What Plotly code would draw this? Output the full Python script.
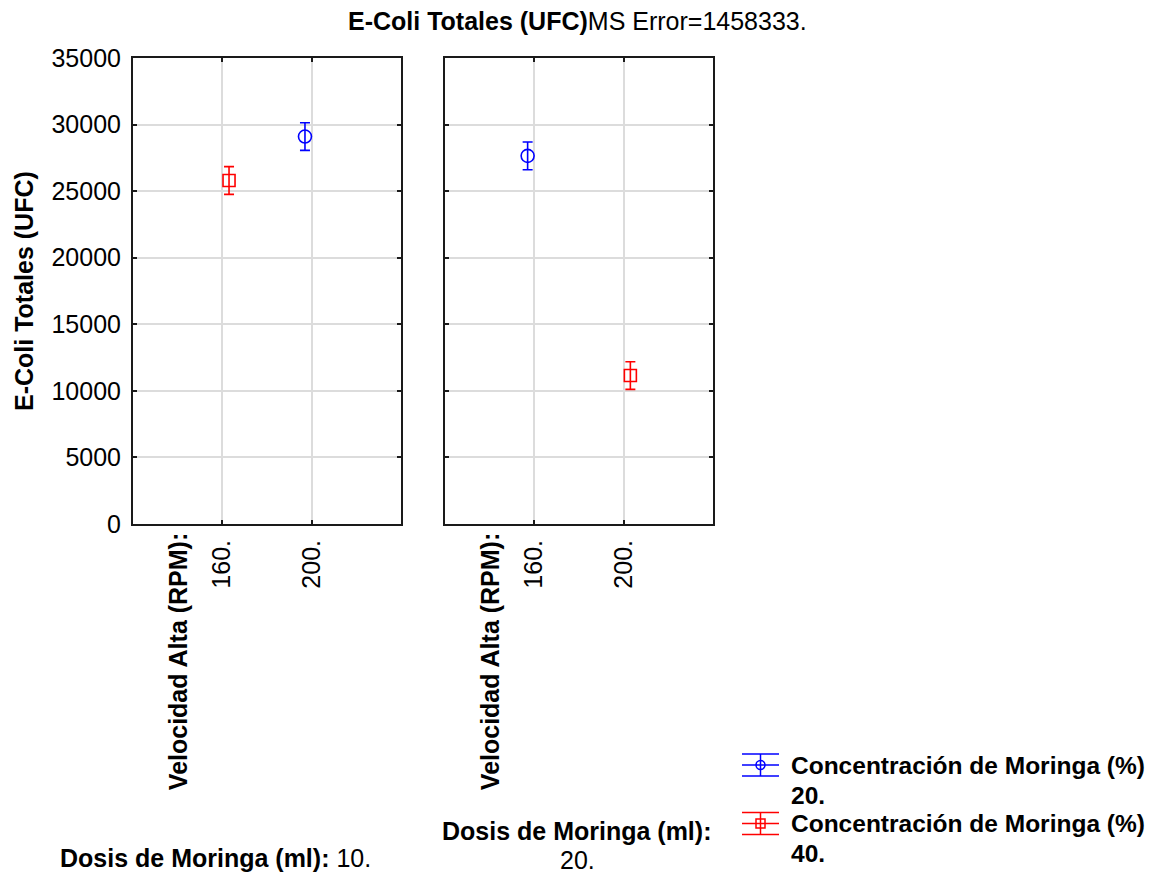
import plotly.graph_objects as go

# ---------------- data ----------------
velocidad_labels = ["160.", "200."]          # Velocidad Alta (RPM)
dosis_labels = ["10.", "20."]                # Dosis de Moringa (ml)
conc_labels = ["20.", "40."]                 # Concentración de Moringa (%)
# means per Dosis panel, indexed by Velocidad level
conc20_dosis10 = [None, 29100]
conc20_dosis20 = [27650, None]
conc40_dosis10 = [25800, None]
conc40_dosis20 = [None, 11150]
ci_half = [1040, 1040]                       # +/- confidence half width
y_ticks = [0, 5000, 10000, 15000, 20000, 25000, 30000, 35000]
ms_error = "1458333."

# ---------------- layout helpers ----------------
W, H = 1156, 873
FONT = "Liberation Sans, Arial, sans-serif"
FS = 25
FS_LEG = 24.5
BLUE = "#0000ff"
RED = "#ff0000"


def px(x):
    return x / W


def py(y):
    return 1 - y / H


panel_left = (133, 401)
panel_right = (445, 713)
plot_top, plot_bottom = 58, 524
offsets = {"20.": -0.075, "40.": 0.075}

series = [
    ("x", "y", conc20_dosis10, "20.", BLUE, "circle-open", 13),
    ("x", "y", conc40_dosis10, "40.", RED, "square-open", 12),
    ("x2", "y2", conc20_dosis20, "20.", BLUE, "circle-open", 13),
    ("x2", "y2", conc40_dosis20, "40.", RED, "square-open", 12),
]

fig = go.Figure()
for xa, ya, vals, conc, color, sym, size in series:
    xs = [i + 1 + offsets[conc] for i in range(len(velocidad_labels))]
    fig.add_trace(go.Scatter(
        x=xs, y=vals, xaxis=xa, yaxis=ya, mode="markers",
        marker=dict(symbol=sym, size=size, color=color, line=dict(color=color, width=1.6)),
        error_y=dict(type="data", array=ci_half, symmetric=True, color=color,
                     thickness=1.6, width=5),
        showlegend=False, hoverinfo="skip",
    ))

axis_common = dict(
    showline=True, linecolor="#1a1a1a", linewidth=2, mirror="ticks",
    ticks="inside", ticklen=4, tickwidth=2, tickcolor="#1a1a1a",
    showgrid=True, gridcolor="#dcdcdc", gridwidth=1.5, zeroline=False,
    automargin=False, tickfont=dict(family=FONT, size=FS, color="black"),
)

xaxis_common = dict(axis_common, range=[0, 3], tickmode="array", tickvals=[1, 2],
                    ticktext=velocidad_labels, tickangle=-90, ticklabelstandoff=4)

fig.update_layout(
    width=W, height=H,
    margin=dict(l=0, r=0, t=0, b=0),
    paper_bgcolor="white", plot_bgcolor="white",
    font=dict(family=FONT, size=FS, color="black"),
    xaxis=dict(xaxis_common, domain=[px(panel_left[0]), px(panel_left[1])], anchor="y"),
    xaxis2=dict(xaxis_common, domain=[px(panel_right[0]), px(panel_right[1])], anchor="y2"),
    yaxis=dict(axis_common, domain=[py(plot_bottom), py(plot_top)], range=[0, 35000],
               tickmode="array", tickvals=y_ticks, ticktext=[str(v) for v in y_ticks],
               anchor="x", ticklabelstandoff=5),
    yaxis2=dict(axis_common, domain=[py(plot_bottom), py(plot_top)], range=[0, 35000],
                tickmode="array", tickvals=y_ticks, showticklabels=False, anchor="x2"),
    showlegend=False,
)

annotations = []
# Title
annotations.append(dict(
    x=px(577), y=py(21), xref="paper", yref="paper", xanchor="center", yanchor="middle",
    text="<b>E-Coli Totales (UFC)</b>MS Error=" + ms_error, showarrow=False,
    font=dict(family=FONT, size=FS, color="black")))
# Y title
annotations.append(dict(
    x=px(24), y=py(291), xref="paper", yref="paper", xanchor="center", yanchor="middle",
    text="<b>E-Coli Totales (UFC)</b>", textangle=-90, showarrow=False,
    font=dict(family=FONT, size=FS, color="black")))
# Factor labels under each panel
for xr in ["x", "x2"]:
    annotations.append(dict(
        x=0.5, y=py(531), xref=xr, yref="paper", xanchor="center", yanchor="top",
        text="<b>Velocidad Alta (RPM):</b>", textangle=-90, showarrow=False,
        font=dict(family=FONT, size=FS, color="black")))
annotations.append(dict(
    x=px(58), y=py(858), xref="paper", yref="paper", xanchor="left", yanchor="middle",
    text="<b>Dosis de Moringa (ml):</b> " + dosis_labels[0], showarrow=False,
    font=dict(family=FONT, size=FS, color="black")))
annotations.append(dict(
    x=px(576), y=py(831), xref="paper", yref="paper", xanchor="center", yanchor="middle",
    text="<b>Dosis de Moringa (ml):</b>", showarrow=False,
    font=dict(family=FONT, size=FS, color="black")))
annotations.append(dict(
    x=px(577), y=py(860), xref="paper", yref="paper", xanchor="center", yanchor="middle",
    text=dosis_labels[1], showarrow=False,
    font=dict(family=FONT, size=FS, color="black")))

# Legend (manual)
shapes = []
legend_items = [(conc_labels[0], BLUE, "circle", 765), (conc_labels[1], RED, "square", 823.5)]
for lab, color, kind, yc in legend_items:
    x0, x1, xc = 742, 779, 760.5
    for dy in (-11, 0, 11):
        shapes.append(dict(type="line", xref="paper", yref="paper",
                           x0=px(x0), x1=px(x1), y0=py(yc + dy), y1=py(yc + dy),
                           line=dict(color=color, width=1.5)))
    shapes.append(dict(type="line", xref="paper", yref="paper",
                       x0=px(xc), x1=px(xc), y0=py(yc - 11), y1=py(yc + 11),
                       line=dict(color=color, width=1.5)))
    r = 4.5
    shapes.append(dict(type="circle" if kind == "circle" else "rect", xref="paper", yref="paper",
                       x0=px(xc - r), x1=px(xc + r), y0=py(yc + r), y1=py(yc - r),
                       line=dict(color=color, width=1.5)))
    annotations.append(dict(
        x=px(789), y=py(yc), xref="paper", yref="paper", xanchor="left", yanchor="middle",
        text="<b>Concentración de Moringa (%)</b>", showarrow=False,
        font=dict(family=FONT, size=FS_LEG, color="black")))
    annotations.append(dict(
        x=px(789), y=py(yc + 30), xref="paper", yref="paper", xanchor="left", yanchor="middle",
        text="<b>" + lab + "</b>", showarrow=False,
        font=dict(family=FONT, size=FS_LEG, color="black")))

fig.update_layout(annotations=annotations, shapes=shapes)
fig.write_html("out.html")
